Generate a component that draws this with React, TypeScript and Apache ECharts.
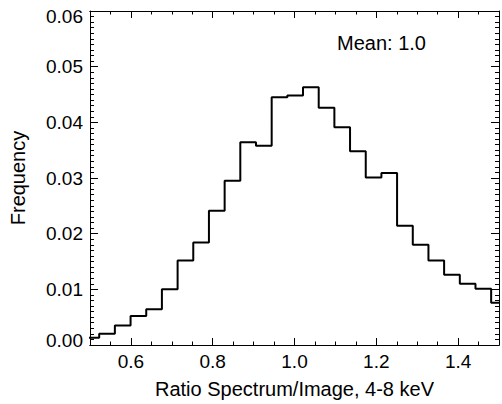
import React, { useEffect, useRef } from "react";
import * as echarts from "echarts";

// Histogram bin edges (left edges of each bin, plus final right edge)
const binEdges = [
  0.4842, 0.5225, 0.5608, 0.5992, 0.6375, 0.6758, 0.7142, 0.7525, 0.7908,
  0.8292, 0.8675, 0.9058, 0.9442, 0.9825, 1.0208, 1.0592, 1.0975, 1.1358,
  1.1742, 1.2125, 1.2508, 1.2892, 1.3275, 1.3658, 1.4042, 1.4425, 1.4808,
  1.5192,
];
// Frequency of each bin
const frequencies = [
  0.0013, 0.002, 0.0035, 0.0052, 0.0064, 0.01, 0.0152, 0.0184, 0.0241,
  0.0295, 0.0364, 0.0358, 0.0445, 0.0448, 0.0463, 0.0426, 0.0391, 0.0348,
  0.0301, 0.0309, 0.0214, 0.018, 0.0152, 0.0126, 0.011, 0.0101, 0.0076,
];
const xMajorTicks = [0.6, 0.8, 1.0, 1.2, 1.4];
const xMinorTicks = [
  0.55, 0.65, 0.7, 0.75, 0.85, 0.9, 0.95, 1.05, 1.1, 1.15, 1.25, 1.3, 1.35,
  1.45,
];
const xTitle = "Ratio Spectrum/Image, 4-8 keV";
const yTitle = "Frequency";
const annotation = "Mean: 1.0";

const FONT = "'Liberation Sans', Arial, Helvetica, sans-serif";
const TICK_FS = 19;
const TITLE_FS = 20;

export default function App() {
  const ref = useRef<HTMLDivElement>(null);
  useEffect(() => {
    if (!ref.current) return;
    const chart = echarts.init(ref.current, undefined, { renderer: "svg" });

    const stepData: [number, number][] = frequencies.map((v, i) => [binEdges[i], v]);
    stepData.push([binEdges[binEdges.length - 1], frequencies[frequencies.length - 1]]);

    const axisLine = { show: true, lineStyle: { color: "#000", width: 1 } };
    const xCommon = {
      type: "value" as const,
      min: 0.5,
      max: 1.5,
      splitLine: { show: false },
      axisLine,
    };
    const yCommon = {
      type: "value" as const,
      min: 0,
      max: 0.06,
      interval: 0.01,
      splitLine: { show: false },
      axisLine,
      axisTick: { show: true, inside: true, length: 8, lineStyle: { color: "#000" } },
      minorTick: { show: true, splitNumber: 10, length: 4, lineStyle: { color: "#000" } },
    };

    chart.setOption({
      animation: false,
      backgroundColor: "#fff",
      grid: { left: 84, right: 3, top: 11, bottom: 52, containLabel: false },
      xAxis: [
        {
          ...xCommon,
          position: "bottom",
          name: xTitle,
          nameLocation: "middle",
          nameGap: 34,
          nameTextStyle: { color: "#000", fontSize: TITLE_FS, fontFamily: FONT },
          axisTick: {
            show: true,
            inside: true,
            length: 7,
            customValues: xMajorTicks,
            lineStyle: { color: "#000" },
          },
          axisLabel: {
            show: true,
            customValues: xMajorTicks,
            color: "#000",
            fontSize: TICK_FS,
            fontFamily: FONT,
            margin: 7,
            formatter: (v: number) => v.toFixed(1),
          },
        },
        {
          ...xCommon,
          position: "bottom",
          axisTick: {
            show: true,
            inside: true,
            length: 3.5,
            customValues: xMinorTicks,
            lineStyle: { color: "#000" },
          },
          axisLabel: { show: false },
        },
        {
          ...xCommon,
          position: "top",
          axisTick: {
            show: true,
            inside: true,
            length: 7,
            customValues: xMajorTicks,
            lineStyle: { color: "#000" },
          },
          axisLabel: { show: false },
        },
        {
          ...xCommon,
          position: "top",
          axisTick: {
            show: true,
            inside: true,
            length: 3.5,
            customValues: xMinorTicks,
            lineStyle: { color: "#000" },
          },
          axisLabel: { show: false },
        },
      ],
      yAxis: [
        {
          ...yCommon,
          position: "left",
          name: yTitle,
          nameLocation: "middle",
          nameGap: 62,
          nameTextStyle: { color: "#000", fontSize: TITLE_FS, fontFamily: FONT },
          axisLabel: {
            show: true,
            color: "#000",
            fontSize: TICK_FS,
            fontFamily: FONT,
            margin: 7,
            formatter: (v: number) => {
              const s = v.toFixed(2);
              if (Math.abs(v - 0.06) < 1e-9) return "{top|" + s + "}";
              if (Math.abs(v) < 1e-9) return "{bot|" + s + "}";
              return s;
            },
            rich: {
              top: { fontSize: TICK_FS, fontFamily: FONT, color: "#000", padding: [11, 0, 0, 0] },
              bot: { fontSize: TICK_FS, fontFamily: FONT, color: "#000", padding: [0, 0, 10, 0] },
            },
          },
        },
        {
          ...yCommon,
          position: "right",
          axisLabel: { show: false },
        },
      ],
      graphic: [
        {
          type: "text",
          left: 337,
          top: 33,
          style: {
            text: annotation,
            fill: "#000",
            fontSize: TITLE_FS,
            fontFamily: FONT,
          },
        },
      ],
      series: [
        {
          type: "line",
          step: "end",
          xAxisIndex: 0,
          yAxisIndex: 0,
          data: stepData,
          symbol: "none",
          clip: true,
          lineStyle: { color: "#000", width: 2 },
        },
      ],
    });

    return () => chart.dispose();
  }, []);

  return (
    <div
      ref={ref}
      style={{ position: "absolute", left: 0, top: 0, width: 502, height: 404 }}
    />
  );
}
